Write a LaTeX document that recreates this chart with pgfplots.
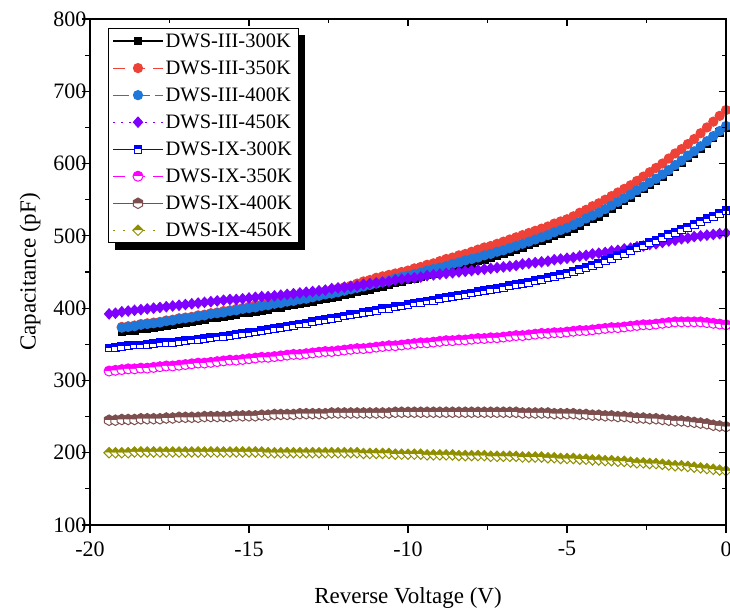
\documentclass[border=0pt]{standalone}
\usepackage{fontspec}
\setmainfont{Liberation Serif}
\usepackage{pgfplots}
\pgfplotsset{compat=1.18}
\usepackage{pgfplotstable}
\usetikzlibrary{plotmarks,backgrounds}

\definecolor{cRed}{RGB}{238,65,55}
\definecolor{cBlue}{RGB}{31,119,217}
\definecolor{cPurple}{RGB}{128,0,255}
\definecolor{cBlueB}{RGB}{0,0,255}
\definecolor{cMag}{RGB}{255,0,255}
\definecolor{cBrown}{RGB}{125,78,78}
\definecolor{cOlive}{RGB}{143,143,0}

% half-filled marks: upper half in fill colour, lower half white
\pgfdeclareplotmark{hsq}{%
  \pgfpathrectangle{\pgfqpoint{-\pgfplotmarksize}{0pt}}{\pgfqpoint{2\pgfplotmarksize}{\pgfplotmarksize}}%
  \pgfusepathqfill
  \begin{pgfscope}\pgfsetfillcolor{white}%
  \pgfpathrectangle{\pgfqpoint{-\pgfplotmarksize}{-\pgfplotmarksize}}{\pgfqpoint{2\pgfplotmarksize}{\pgfplotmarksize}}%
  \pgfusepathqfill\end{pgfscope}%
  \pgfpathrectangle{\pgfqpoint{-\pgfplotmarksize}{-\pgfplotmarksize}}{\pgfqpoint{2\pgfplotmarksize}{2\pgfplotmarksize}}%
  \pgfusepathqstroke}
\pgfdeclareplotmark{hcirc}{%
  \pgfpathmoveto{\pgfqpoint{\pgfplotmarksize}{0pt}}%
  \pgfpatharc{0}{180}{\pgfplotmarksize}\pgfpathclose
  \pgfusepathqfill
  \begin{pgfscope}\pgfsetfillcolor{white}%
  \pgfpathmoveto{\pgfqpoint{-\pgfplotmarksize}{0pt}}%
  \pgfpatharc{180}{360}{\pgfplotmarksize}\pgfpathclose
  \pgfusepathqfill\end{pgfscope}%
  \pgfpathcircle{\pgfpointorigin}{\pgfplotmarksize}%
  \pgfusepathqstroke}
\pgfdeclareplotmark{hhex}{%
  \pgfpathmoveto{\pgfqpoint{-0.866\pgfplotmarksize}{0pt}}%
  \pgfpathlineto{\pgfqpoint{-0.866\pgfplotmarksize}{0.5\pgfplotmarksize}}%
  \pgfpathlineto{\pgfqpoint{0pt}{\pgfplotmarksize}}%
  \pgfpathlineto{\pgfqpoint{0.866\pgfplotmarksize}{0.5\pgfplotmarksize}}%
  \pgfpathlineto{\pgfqpoint{0.866\pgfplotmarksize}{0pt}}\pgfpathclose
  \pgfusepathqfill
  \begin{pgfscope}\pgfsetfillcolor{white}%
  \pgfpathmoveto{\pgfqpoint{-0.866\pgfplotmarksize}{0pt}}%
  \pgfpathlineto{\pgfqpoint{-0.866\pgfplotmarksize}{-0.5\pgfplotmarksize}}%
  \pgfpathlineto{\pgfqpoint{0pt}{-\pgfplotmarksize}}%
  \pgfpathlineto{\pgfqpoint{0.866\pgfplotmarksize}{-0.5\pgfplotmarksize}}%
  \pgfpathlineto{\pgfqpoint{0.866\pgfplotmarksize}{0pt}}\pgfpathclose
  \pgfusepathqfill\end{pgfscope}%
  \pgfpathmoveto{\pgfqpoint{0pt}{\pgfplotmarksize}}%
  \pgfpathlineto{\pgfqpoint{0.866\pgfplotmarksize}{0.5\pgfplotmarksize}}%
  \pgfpathlineto{\pgfqpoint{0.866\pgfplotmarksize}{-0.5\pgfplotmarksize}}%
  \pgfpathlineto{\pgfqpoint{0pt}{-\pgfplotmarksize}}%
  \pgfpathlineto{\pgfqpoint{-0.866\pgfplotmarksize}{-0.5\pgfplotmarksize}}%
  \pgfpathlineto{\pgfqpoint{-0.866\pgfplotmarksize}{0.5\pgfplotmarksize}}\pgfpathclose
  \pgfusepathqstroke}
\pgfdeclareplotmark{hdia}{%
  \pgfpathmoveto{\pgfqpoint{-\pgfplotmarksize}{0pt}}%
  \pgfpathlineto{\pgfqpoint{0pt}{\pgfplotmarksize}}%
  \pgfpathlineto{\pgfqpoint{\pgfplotmarksize}{0pt}}\pgfpathclose
  \pgfusepathqfill
  \begin{pgfscope}\pgfsetfillcolor{white}%
  \pgfpathmoveto{\pgfqpoint{-\pgfplotmarksize}{0pt}}%
  \pgfpathlineto{\pgfqpoint{0pt}{-\pgfplotmarksize}}%
  \pgfpathlineto{\pgfqpoint{\pgfplotmarksize}{0pt}}\pgfpathclose
  \pgfusepathqfill\end{pgfscope}%
  \pgfpathmoveto{\pgfqpoint{-\pgfplotmarksize}{0pt}}%
  \pgfpathlineto{\pgfqpoint{0pt}{\pgfplotmarksize}}%
  \pgfpathlineto{\pgfqpoint{\pgfplotmarksize}{0pt}}%
  \pgfpathlineto{\pgfqpoint{0pt}{-\pgfplotmarksize}}\pgfpathclose
  \pgfusepathqstroke}
% filled diamond, as wide as it is tall
\pgfdeclareplotmark{fdia}{%
  \pgfpathmoveto{\pgfqpoint{-0.9\pgfplotmarksize}{0pt}}%
  \pgfpathlineto{\pgfqpoint{0pt}{\pgfplotmarksize}}%
  \pgfpathlineto{\pgfqpoint{0.9\pgfplotmarksize}{0pt}}%
  \pgfpathlineto{\pgfqpoint{0pt}{-\pgfplotmarksize}}\pgfpathclose
  \pgfusepathqfillstroke}

% V: reverse voltage; a..d = DWS-III 300/350/400/450 K, e..h = DWS-IX 300/350/400/450 K
\pgfplotstableread{
V a b c d e f g h
-19.4 nan nan nan 392 345 313 245 200
-19.2 nan nan nan 393 346 314 245 200
-19 367 374 373 395 347 315 246 200
-18.8 368 375 374 396 348 316 246 200
-18.6 369 376 375 397 349 316 246 201
-18.4 371 378 377 398 349 317 247 201
-18.2 372 379 378 399 350 317 247 201
-18 373 380 379 400 351 318 247 201
-17.8 374 381 380 401 352 319 247 201
-17.6 376 383 382 402 353 320 248 201
-17.4 377 384 383 403 353 320 248 201
-17.2 379 386 385 404 354 321 249 201
-17 380 387 386 405 355 322 249 201
-16.8 381 388 387 406 356 323 249 201
-16.6 383 390 389 407 357 324 249 201
-16.4 384 391 390 408 358 324 250 201
-16.2 386 393 392 409 359 325 250 201
-16 387 394 393 410 360 326 250 201
-15.8 388 396 394 411 361 327 250 201
-15.6 390 397 396 412 362 328 250 201
-15.4 391 399 397 412 364 328 251 201
-15.2 393 400 399 413 365 329 251 201
-15 394 402 400 414 366 330 251 201
-14.8 395 404 401 415 367 331 251 201
-14.6 397 405 403 416 369 332 252 201
-14.4 398 407 404 416 370 332 252 200
-14.2 400 408 406 417 372 333 253 200
-14 401 410 407 418 373 334 253 200
-13.8 403 412 409 419 375 335 253 200
-13.6 404 414 410 420 376 336 253 200
-13.4 406 415 412 421 378 336 254 200
-13.2 407 417 413 422 379 337 254 200
-13 409 419 415 423 381 338 254 200
-12.8 411 421 417 424 383 339 254 200
-12.6 413 423 419 425 384 340 254 200
-12.4 414 425 420 427 386 340 255 200
-12.2 416 427 422 428 387 341 255 200
-12 418 429 424 429 389 342 255 200
-11.8 420 431 426 430 391 343 255 200
-11.6 422 434 428 431 392 344 255 200
-11.4 424 437 430 433 394 344 255 199
-11.2 426 439 432 434 395 345 255 199
-11 428 442 434 435 397 346 255 199
-10.8 430 444 436 436 399 347 255 199
-10.6 432 446 438 437 400 348 255 199
-10.4 435 448 441 439 402 348 256 198
-10.2 437 450 443 440 403 349 256 198
-10 439 452 445 441 405 350 256 198
-9.8 441 455 447 442 407 351 256 198
-9.6 443 457 449 443 408 352 256 198
-9.4 446 460 452 445 410 352 256 197
-9.2 448 462 454 446 411 353 256 197
-9 450 465 456 447 413 354 256 197
-8.8 452 468 458 448 415 355 256 197
-8.6 455 470 461 449 416 355 256 197
-8.4 457 473 463 450 418 356 256 196
-8.2 460 475 466 451 419 356 256 196
-8 462 478 468 452 421 357 256 196
-7.8 465 481 470 453 423 358 256 196
-7.6 467 484 473 454 424 358 256 196
-7.4 470 486 475 455 426 359 256 195
-7.2 472 489 478 456 427 359 256 195
-7 475 492 480 457 429 360 256 195
-6.8 478 495 483 458 431 361 256 195
-6.6 481 498 486 459 433 362 256 195
-6.4 484 501 489 461 434 362 255 194
-6.2 487 504 492 462 436 363 255 194
-6 490 507 495 463 438 364 255 194
-5.8 493 510 498 464 440 365 255 194
-5.6 496 513 501 465 442 365 255 193
-5.4 500 517 505 467 444 366 254 193
-5.2 503 520 508 468 446 366 254 192
-5 506 523 511 469 448 367 254 192
-4.8 510 527 515 470 451 368 254 192
-4.6 514 532 519 472 454 369 253 191
-4.4 519 536 524 473 456 369 253 191
-4.2 523 541 528 475 459 370 252 190
-4 527 545 532 476 462 371 252 190
-3.8 532 550 537 477 466 372 251 189
-3.6 537 555 542 479 469 373 251 189
-3.4 543 560 547 480 473 373 250 188
-3.2 548 565 552 482 476 374 250 188
-3 553 570 557 483 480 375 249 187
-2.8 559 576 563 485 484 376 248 186
-2.6 565 582 568 486 487 377 248 186
-2.4 570 588 574 488 491 377 247 185
-2.2 576 594 579 489 494 378 247 185
-2 582 600 585 491 498 379 246 184
-1.8 588 607 591 493 502 380 245 183
-1.6 595 614 598 494 505 381 244 182
-1.4 601 620 604 496 509 381 244 182
-1.2 608 627 611 497 512 381 243 181
-1 614 634 617 499 516 381 242 180
-0.8 621 642 624 500 520 381 241 179
-0.6 628 650 631 501 524 380 240 178
-0.4 636 658 638 502 527 379 238 177
-0.2 643 666 645 503 531 378 237 176
0 650 674 652 504 535 377 236 175
}\cvdata

\pgfplotsset{
  frame/.style={
    width=636pt, height=506pt, scale only axis,
    xmin=-20, xmax=0, ymin=100, ymax=800,
    xtick={-20,-15,...,0}, ytick={100,200,...,800},
    minor x tick num=1, minor y tick num=1,
    axis line style={line width=1.3pt},
    tick style={black, line width=1.1pt},
  }
}

\begin{document}
\begin{tikzpicture}
\begin{axis}[
  frame, name=main,
  xtick pos=left, ytick pos=left,
  tick align=outside,
  major tick length=8pt, minor tick length=4.5pt,
  clip=false,
  /pgf/number format/assume math mode=true,
  ticklabel style={font=\fontsize{22}{26}\selectfont},
  yticklabel style={xshift=8pt},
  xticklabel style={yshift=-5pt},
  xlabel={Reverse Voltage (V)}, ylabel={Capacitance (pF)},
  label style={font=\fontsize{23}{27}\selectfont},
  xlabel style={at={(axis description cs:0.5,-0.144)}, anchor=center},
  ylabel style={at={(axis description cs:-0.0943,0.5)}, anchor=center},
  legend cell align=left,
  legend image code/.code={\draw[mark repeat=2,mark phase=2,#1] plot coordinates {(0pt,0pt) (25pt,0pt) (50pt,0pt)};},
  legend style={name=leg, at={(0.0283,0.982)}, anchor=north west,
    draw=black, line width=0.8pt, fill=white,
    font=\fontsize{20.5}{24}\selectfont,
    row sep=7.9pt, inner xsep=4pt, inner ysep=3pt,
    /tikz/every odd column/.append style={column sep=0pt},
    /tikz/every even column/.append style={column sep=6pt}},
]
\coordinate (sw) at (rel axis cs:0,0);
\coordinate (ne) at (rel axis cs:1,1);
\addplot[black, line width=1.2pt, mark=square*, mark size=3.6pt, mark options={solid}]
  table[x=V, y=a]{\cvdata};
\addlegendentry{DWS-III-300K}
\addplot[cRed, line width=1.2pt, dash pattern=on 12pt off 8pt, mark=*, mark size=4.5pt, mark options={solid}]
  table[x=V, y=b]{\cvdata};
\addlegendentry{DWS-III-350K}
\addplot[cBlue, line width=1.2pt, dash pattern=on 16pt off 5pt, mark=*, mark size=4.5pt, mark options={solid}]
  table[x=V, y=c]{\cvdata};
\addlegendentry{DWS-III-400K}
\addplot[cPurple, line width=1.2pt, dash pattern=on 2pt off 6pt, mark=fdia, mark size=5pt, mark options={solid, fill=cPurple}]
  table[x=V, y=d]{\cvdata};
\addlegendentry{DWS-III-450K}
\addplot[cBlueB, line width=1.2pt, mark=hsq, mark size=3.9pt, mark options={solid, fill=cBlueB, line width=1pt}]
  table[x=V, y=e]{\cvdata};
\addlegendentry{DWS-IX-300K}
\addplot[cMag, line width=1.2pt, dash pattern=on 12pt off 8pt, mark=hcirc, mark size=5pt, mark options={solid, fill=cMag, line width=1pt}]
  table[x=V, y=f]{\cvdata};
\addlegendentry{DWS-IX-350K}
\addplot[cBrown, line width=1.2pt, mark=hhex, mark size=5.3pt, mark options={solid, fill=cBrown, line width=1pt}]
  table[x=V, y=g]{\cvdata};
\addlegendentry{DWS-IX-400K}
\addplot[cOlive, line width=1.2pt, dash pattern=on 2pt off 8pt, mark=hdia, mark size=5.2pt, mark options={solid, fill=cOlive, line width=1pt}]
  table[x=V, y=h]{\cvdata};
\addlegendentry{DWS-IX-450K}
\end{axis}
\begin{axis}[
  frame, at={(main.south west)}, anchor=south west,
  xtick pos=right, ytick pos=right,
  tick align=inside,
  major tick length=7pt, minor tick length=4pt,
  xticklabels={}, yticklabels={},
]
\end{axis}
\begin{pgfonlayer}{background}
\fill[black] ([shift={(7pt,-7pt)}]leg.south west) rectangle ([shift={(7pt,-7pt)}]leg.north east);
\end{pgfonlayer}
\pgfresetboundingbox
\path ([shift={(-90pt,-86pt)}]sw) rectangle ([shift={(4pt,19pt)}]ne);
\end{tikzpicture}
\end{document}
